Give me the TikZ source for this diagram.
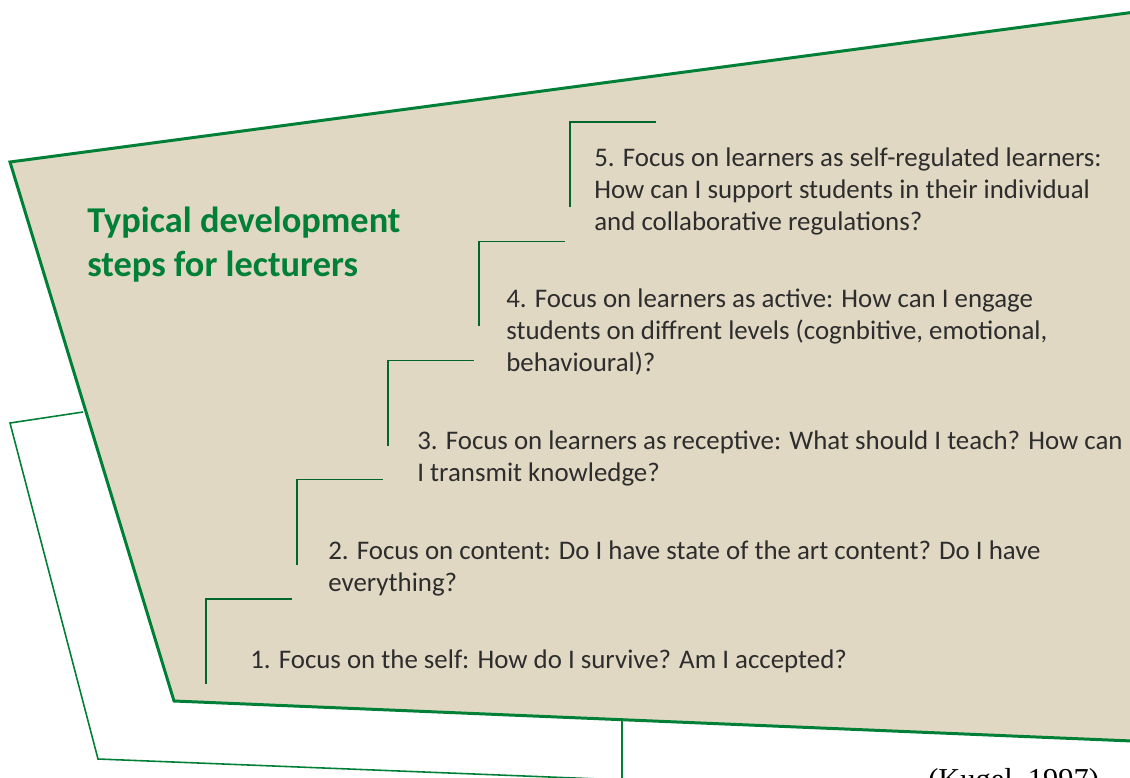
\documentclass[tikz,border=0pt]{standalone}
\usepackage{fontspec}
\setmainfont{Carlito}
\newfontfamily\citefont{Liberation Serif}
\usetikzlibrary{positioning}
\definecolor{stepgreen}{RGB}{0,128,55}
\definecolor{sand}{RGB}{225,216,196}
\definecolor{steptext}{RGB}{45,45,45}

\begin{document}
\begin{tikzpicture}[x=0.02cm, y=-0.02cm,
    panel/.style={draw=stepgreen, line width=1.7pt, fill=sand, line join=miter},
    outline/.style={draw=stepgreen, line width=0.9pt},
    stair/.style={draw=stepgreen!80!black, line width=0.8pt},
    steptxt/.style={anchor=base west, inner sep=0pt, align=left, font=\fontsize{15.3}{18.1}\selectfont, text=steptext},
    heading/.style={anchor=base west, inner sep=0pt, align=left, font=\fontsize{20.7}{25}\selectfont\bfseries, text=stepgreen},
]
\useasboundingbox (0,0) rectangle (1130,778);
\clip (0,0) rectangle (1130,778);

% sheets behind the panel
\draw[outline] (83,412) -- (10,423) -- (98,759) -- (700,783);
\draw[outline] (622,715) -- (622,790);

% main panel
\path[panel] (10,162) -- (1180,6) -- (1180,743) -- (174,701) -- cycle;

% multi-line nodes sit on the baseline of their last line
\node[heading] (title) at (87,276) {Typical development\\steps for lecturers};

% stairs
\foreach \i in {0,...,4}
    \draw[stair] ({206+91*\i},{684-119.25*\i}) -- ++(0,-85) -- ++(86,0);

\node[steptxt] (s1) at (250,668) {1. Focus on the self: How do I survive? Am I accepted?};
\node[steptxt] (s2) at (328,591) {2. Focus on content: Do I have state of the art content? Do I have\\everything?};
\node[steptxt] (s3) at (417,481) {3. Focus on learners as receptive: What should I teach? How can\\I transmit knowledge?};
\node[steptxt] (s4) at (506,371) {4. Focus on learners as active: How can I engage\\students on diffrent levels (cognbitive, emotional,\\behavioural)?};
\node[steptxt] (s5) at (594,230) {5. Focus on learners as self-regulated learners:\\How can I support students in their individual\\and collaborative regulations?};

\node[anchor=base west, inner sep=0pt, font=\citefont\fontsize{17.3}{20}\selectfont] (cite) at (928,789) {(Kugel, 1997)};
\end{tikzpicture}
\end{document}
